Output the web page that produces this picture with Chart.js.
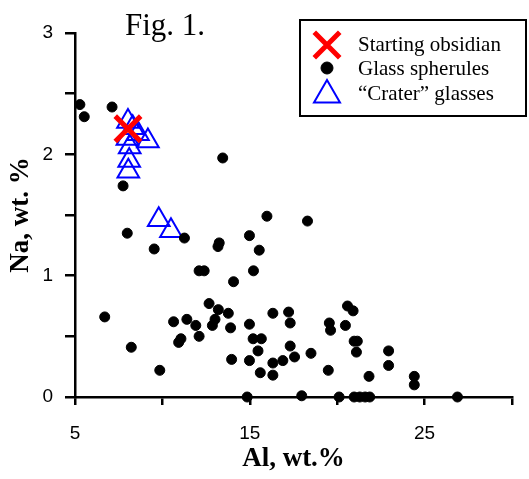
<!DOCTYPE html>
<html>
<head>
<meta charset="utf-8">
<script src="https://cdn.jsdelivr.net/npm/chart.js@4/dist/chart.umd.min.js"></script>
<style>
  html, body { margin: 0; padding: 0; background: #fff; }
</style>
</head>
<body>
<canvas id="chart" width="529" height="479"></canvas>
<script>
// Fig. 1 - Na vs Al scatter

const FIG_TITLE = 'Fig. 1.';
const X_TITLE = 'Al, wt.%';
const Y_TITLE = 'Na, wt. %';
const seriesLabels = ['Starting obsidian', 'Glass spherules', '\u201CCrater\u201D glasses'];

const xTickLabels = [5, 15, 25];
const yTickLabels = [0, 1, 2, 3];

const obsidianAl = [8.03];
const obsidianNa = [2.21];

const spheruleAl = [
  5.28, 5.53, 7.12, 7.75, 13.45, 7.99,
  15.98, 18.3, 11.26, 14.98, 9.53, 13.18, 13.25, 15.54, 12.1, 12.39, 15.21, 14.07,
  6.70, 12.67, 13.2, 13.77, 13.01, 12.86, 10.64, 11.4, 11.91, 12.1, 11.06, 10.93,
  13.9, 16.32, 14.98, 15.19, 15.66, 15.47, 13.96, 14.98, 15.6, 16.32, 16.32, 9.85,
  14.85, 8.22,
  17.22, 17.31, 20.59, 20.91, 19.55, 19.62, 20.47, 17.31, 16.89, 17.56, 18.5,
  20.97, 21.15, 21.1, 19.49, 21.82, 17.97, 20.11, 20.97, 21.29, 21.6, 21.86,
  22.94, 22.94, 24.41, 24.41, 26.88,
];
const spheruleNa = [
  2.41, 2.31, 2.39, 1.74, 1.97, 1.35,
  1.49, 1.45, 1.31, 1.33, 1.22, 1.24, 1.27, 1.21, 1.04, 1.04, 1.04, 0.95,
  0.66, 0.77, 0.72, 0.69, 0.64, 0.59, 0.62, 0.64, 0.59, 0.50, 0.48, 0.45,
  0.57, 0.69, 0.60, 0.48, 0.48, 0.38, 0.31, 0.30, 0.20, 0.28, 0.18, 0.22,
  0.0, 0.41,
  0.70, 0.61, 0.75, 0.71, 0.61, 0.55, 0.59, 0.42, 0.30, 0.33, 0.36,
  0.46, 0.46, 0.37, 0.22, 0.17, 0.01, 0.0, 0.0, 0.0, 0.0, 0.0,
  0.38, 0.26, 0.17, 0.10, 0.0,
];

const craterAl = [8.03, 8.3, 8.6, 9.17, 8.0, 8.13, 8.1, 8.05, 9.79, 10.49];
const craterNa = [2.27, 2.22, 2.17, 2.11, 2.13, 2.06, 1.95, 1.86, 1.46, 1.37];

const RED = '#FF0000';
const BLUE = '#0000FF';
const BLACK = '#000000';
const SERIF = '"Liberation Serif", "Times New Roman", serif';
const SANS = '"Liberation Sans", Arial, sans-serif';

function toPoints(xs, ys) {
  return xs.map((x, i) => ({ x, y: ys[i] }));
}

// legend markers reuse the dataset styles
const legendStyles = [
  { pointStyle: 'crossRot', radius: 18, borderWidth: 5, stroke: RED, fill: 'rgba(0,0,0,0)' },
  { pointStyle: 'circle', radius: 6, borderWidth: 1, stroke: BLACK, fill: BLACK },
  { pointStyle: 'triangle', radius: 15, borderWidth: 2, stroke: BLUE, fill: 'rgba(0,0,0,0)' },
];

const overlayPlugin = {
  id: 'overlay',
  afterDraw(chart) {
    const { ctx, chartArea } = chart;
    const left = chartArea.left;
    const top = chartArea.top;
    ctx.save();

    // figure caption inside the plot
    ctx.font = '31px ' + SERIF;
    ctx.fillStyle = BLACK;
    ctx.textBaseline = 'alphabetic';
    ctx.textAlign = 'left';
    ctx.fillText(FIG_TITLE, left + 50, top + 2);

    // legend box
    const bx = left + 225;
    const by = top - 13;
    ctx.fillStyle = '#fff';
    ctx.fillRect(bx, by, 226, 96);
    ctx.strokeStyle = BLACK;
    ctx.lineWidth = 2;
    ctx.strokeRect(bx, by, 226, 96);

    const rowY = [45.5, 69, 94.5];
    const markY = [45, 68, 95];
    seriesLabels.forEach((label, i) => {
      const st = legendStyles[i];
      ctx.strokeStyle = st.stroke;
      ctx.fillStyle = st.fill;
      ctx.lineWidth = st.borderWidth;
      Chart.helpers.drawPoint(ctx, {
        pointStyle: st.pointStyle,
        radius: st.radius,
        rotation: 0,
        borderWidth: st.borderWidth,
      }, bx + 27, markY[i]);
      ctx.fillStyle = BLACK;
      ctx.font = '21px ' + SERIF;
      ctx.textBaseline = 'middle';
      ctx.fillText(label, bx + 58, rowY[i]);
    });
    ctx.restore();
  },
};

const axisGrid = (len) => ({
  display: true,
  drawOnChartArea: false,
  drawTicks: true,
  tickLength: len,
  color: BLACK,
  lineWidth: 2.5,
});

new Chart(document.getElementById('chart'), {
  type: 'scatter',
  data: {
    datasets: [
      {
        label: seriesLabels[0],
        data: toPoints(obsidianAl, obsidianNa),
        pointStyle: 'crossRot',
        pointRadius: 18,
        borderColor: RED,
        backgroundColor: 'rgba(0,0,0,0)',
        borderWidth: 5,
        clip: false,
      },
      {
        label: seriesLabels[1],
        data: toPoints(spheruleAl, spheruleNa),
        pointStyle: 'circle',
        pointRadius: 5,
        borderColor: BLACK,
        backgroundColor: BLACK,
        borderWidth: 1,
        clip: false,
      },
      {
        label: seriesLabels[2],
        data: toPoints(craterAl, craterNa),
        pointStyle: 'triangle',
        pointRadius: 12.5,
        borderColor: BLUE,
        backgroundColor: 'rgba(0,0,0,0)',
        borderWidth: 2,
        clip: false,
      },
    ],
  },
  options: {
    responsive: false,
    animation: false,
    devicePixelRatio: 1,
    layout: {
      autoPadding: false,
      padding: { top: 33, right: 14, left: 0, bottom: 0 },
    },
    plugins: {
      legend: { display: false },
      tooltip: { enabled: false },
    },
    scales: {
      x: {
        type: 'linear',
        min: 5,
        max: 30,
        afterFit: (s) => { s.height = 82; },
        grid: axisGrid(8),
        border: { display: true, color: BLACK, width: 2.5 },
        ticks: {
          stepSize: 5,
          autoSkip: false,
          maxRotation: 0,
          padding: 17,
          color: BLACK,
          font: { family: SANS, size: 19 },
          callback: (v) => (xTickLabels.includes(v) ? String(v) : ''),
        },
        title: {
          display: true,
          text: X_TITLE,
          color: BLACK,
          font: { family: SERIF, size: 27, weight: 'bold' },
          padding: { top: 0, bottom: 4 },
        },
      },
      y: {
        type: 'linear',
        min: 0,
        max: 3,
        afterFit: (s) => { s.width = 75; },
        grid: axisGrid(10),
        border: { display: true, color: BLACK, width: 2.5 },
        ticks: {
          stepSize: 0.5,
          autoSkip: false,
          padding: 12,
          color: BLACK,
          font: { family: SANS, size: 19 },
          callback: (v) => (yTickLabels.includes(v) ? String(v) : ''),
        },
        title: {
          display: true,
          text: Y_TITLE,
          color: BLACK,
          font: { family: SERIF, size: 27, weight: 'bold' },
          padding: { top: 5, bottom: 0 },
        },
      },
    },
  },
  plugins: [overlayPlugin],
});
</script>
</body>
</html>
